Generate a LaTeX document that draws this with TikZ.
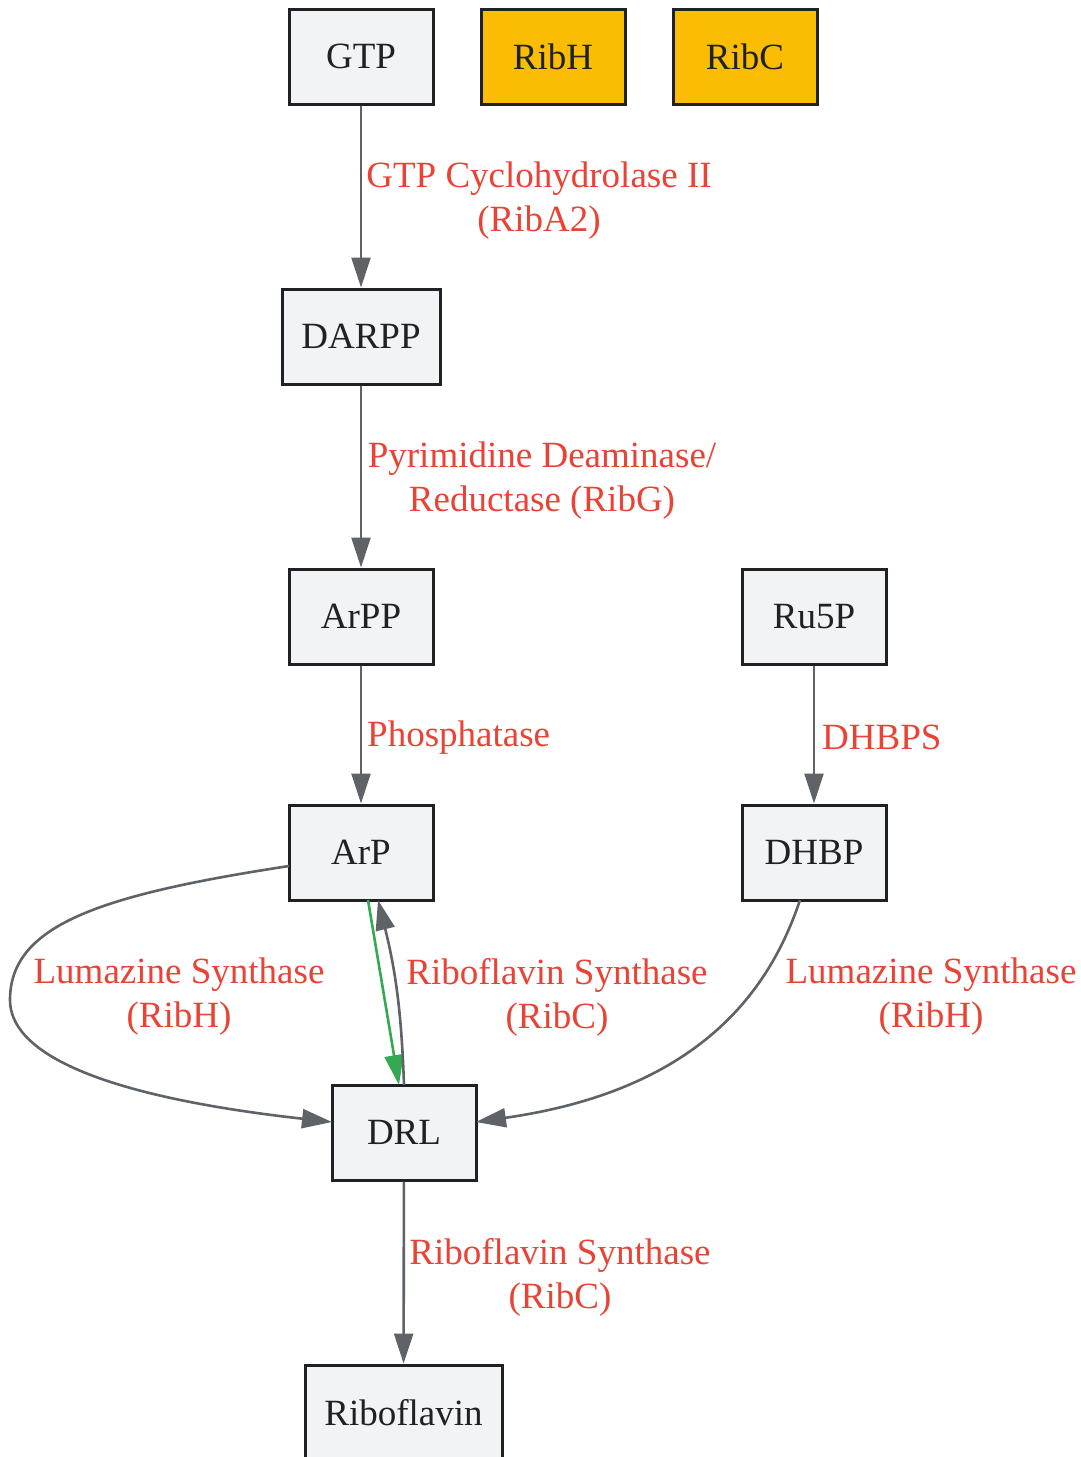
\documentclass[tikz,border=0pt]{standalone}
\usepackage{fontspec}
\setmainfont{Liberation Serif}
\usetikzlibrary{arrows.meta}
\definecolor{nodefill}{HTML}{F1F3F4}
\definecolor{enzfill}{HTML}{FBBC04}
\definecolor{edgegray}{HTML}{5F6368}
\definecolor{edgegreen}{HTML}{34A853}
\definecolor{lblred}{HTML}{EA4335}
\definecolor{bord}{HTML}{202124}
\begin{document}
\begin{tikzpicture}[x=1pt,y=-1pt,
  box/.style={draw=bord, line width=3pt, fill=nodefill, minimum height=95pt,
    minimum width=144pt, inner sep=0pt, text=bord, font=\fontsize{37}{44}\selectfont},
  enzbox/.style={box, fill=enzfill},
  lbl/.style={text=lblred, align=center, inner sep=0pt, font=\fontsize{37}{44}\selectfont},
  edge/.style={draw=edgegray, line width=2.6pt, -{Triangle[length=30pt,width=19pt]}},
  gedge/.style={draw=edgegreen, line width=2.6pt, -{Triangle[length=30pt,width=19pt]}}
]
\useasboundingbox (0,0) rectangle (1081,1457);
\fill[white] (0,0) rectangle (1081,1457);

\node[box] (GTP) at (361,56.5) {GTP};
\node[enzbox] (RibH) at (553,56.5) {RibH};
\node[enzbox] (RibC) at (745,56.5) {RibC};
\node[box, minimum width=158pt] (DARPP) at (361,336.5) {DARPP};
\node[box] (ArPP) at (361,616.5) {ArPP};
\node[box] (Ru5P) at (814,616.5) {Ru5P};
\node[box] (ArP) at (361,852.5) {ArP};
\node[box] (DHBP) at (814,852.5) {DHBP};
\node[box] (DRL) at (404,1132.5) {DRL};
\node[box, minimum width=197pt] (Ribo) at (403.5,1412.5) {Riboflavin};

\draw[edge] (GTP) -- (DARPP);
\draw[edge] (DARPP) -- (ArPP);
\draw[edge] (ArPP) -- (ArP);
\draw[edge] (Ru5P) -- (DHBP);
\draw[edge] (DRL) -- (Ribo);

\coordinate (aw) at (289,866);
\coordinate (dw) at (332,1122);
\draw[edge] (aw) .. controls (100,895) and (10,925) .. (10,1000)
   .. controls (10,1050) and (90,1095) .. (dw);

\coordinate (as1) at (368,900);
\coordinate (dn1) at (399,1085);
\draw[gedge] (as1) -- (dn1);

\coordinate (dn2) at (404,1085);
\coordinate (as2) at (378,900);
\draw[edge] (dn2) to[bend right=6] (as2);

\coordinate (hs) at (800,900);
\coordinate (de) at (476,1122);
\draw[edge] (hs) .. controls (770,990) and (700,1090) .. (de);

\node[lbl] (l1) at (539,201) {GTP Cyclohydrolase II\\(RibA2)};
\node[lbl] (l2) at (542,481) {Pyrimidine Deaminase/\\Reductase (RibG)};
\node[lbl, anchor=west] (l3) at (367,738) {Phosphatase};
\node[lbl, anchor=west] (l4) at (822,737) {DHBPS};
\node[lbl] (l5) at (179,997) {Lumazine Synthase\\(RibH)};
\node[lbl] (l6) at (557,997) {Riboflavin Synthase\\(RibC)};
\node[lbl] (l7) at (931,997) {Lumazine Synthase\\(RibH)};
\node[lbl] (l8) at (560,1277) {Riboflavin Synthase\\(RibC)};
\end{tikzpicture}
\end{document}
